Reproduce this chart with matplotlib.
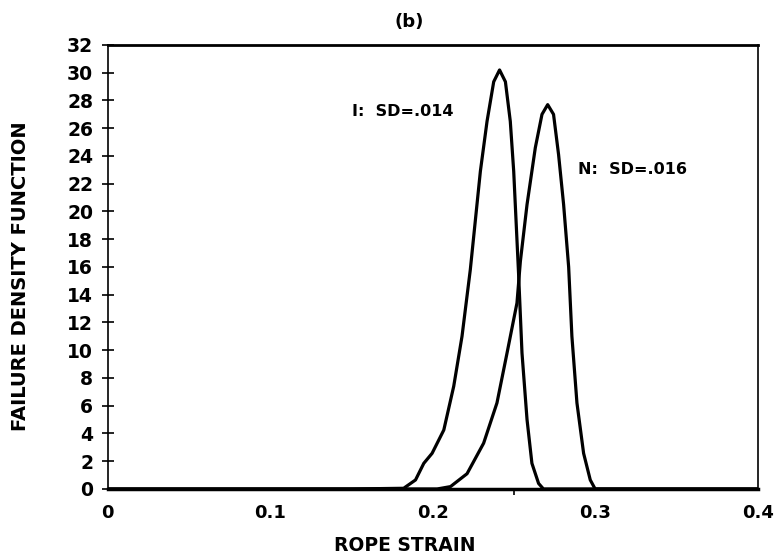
import matplotlib.pyplot as plt

# curve I (SD=.014)
strain_i = [0.0, 0.150, 0.182, 0.1893, 0.1944, 0.1995, 0.2067, 0.2128, 0.2179, 0.2230,
            0.2292, 0.2333, 0.2374, 0.2410, 0.2446, 0.2476, 0.2497, 0.2527, 0.2548,
            0.2579, 0.2609, 0.2650, 0.2680, 0.400]
fdf_i = [0.0, 0.0, 0.05, 0.65, 1.85, 2.57, 4.25, 7.4, 11.0, 15.8,
         22.9, 26.5, 29.35, 30.2, 29.35, 26.5, 22.9, 15.5, 9.8,
         5.0, 1.85, 0.4, 0.0, 0.0]

# curve N (SD=.016)
strain_n = [0.0, 0.170, 0.2026, 0.2108, 0.2210, 0.2312, 0.2394, 0.2456, 0.2517, 0.2538,
            0.2579, 0.2630, 0.2671, 0.2706, 0.2742, 0.2773, 0.2804, 0.2835, 0.2855,
            0.2886, 0.2927, 0.2968, 0.2998, 0.400]
fdf_n = [0.0, 0.0, 0.0, 0.17, 1.1, 3.3, 6.2, 9.8, 13.4, 16.4,
         20.5, 24.6, 27.0, 27.7, 27.0, 24.1, 20.5, 16.0, 11.0,
         6.2, 2.57, 0.65, 0.0, 0.0]

x_ticks = [0, 0.1, 0.2, 0.3, 0.4]
x_tick_labels = ["0", "0.1", "0.2", "0.3", "0.4"]
y_ticks = list(range(0, 33, 2))

plt.rcParams["font.family"] = ["DejaVu Sans"]
plt.rcParams["font.weight"] = "bold"

fig = plt.figure(figsize=(7.81, 5.58), dpi=100)
ax = fig.add_axes([0.138, 0.1237, 0.8326, 0.7957])

ax.plot(strain_i, fdf_i, color="black", linewidth=2.3, solid_joinstyle="round")
ax.plot(strain_n, fdf_n, color="black", linewidth=2.3, solid_joinstyle="round")

ax.text(0.150, 27.2, "I:  SD=.014", fontsize=11.5, fontweight="bold", va="center")
ax.text(0.289, 23.0, "N:  SD=.016", fontsize=11.5, fontweight="bold", va="center")

ax.set_xlim(0, 0.4)
ax.set_ylim(0, 32)
ax.set_xticks(x_ticks)
ax.set_xticklabels(x_tick_labels)
ax.set_yticks(y_ticks)
ax.set_xticks([0.25], minor=True)
ax.tick_params(axis="x", which="major", length=0, pad=11, labelsize=13)
ax.tick_params(axis="x", which="minor", direction="out", length=4, width=1.2)
ax.tick_params(axis="y", direction="inout", length=9, width=1.2, pad=6, labelsize=13.5)
for lab in ax.get_xticklabels() + ax.get_yticklabels():
    lab.set_fontweight("bold")

for side in ["left", "right"]:
    ax.spines[side].set_linewidth(1.2)
ax.spines["bottom"].set_linewidth(2.5)
ax.spines["top"].set_linewidth(2.0)

ax.set_xlabel("ROPE STRAIN", fontsize=13.5, fontweight="bold")
ax.xaxis.set_label_coords(0.457, -0.105)
ax.set_ylabel("FAILURE DENSITY FUNCTION", fontsize=14, fontweight="bold", va="center")
ax.yaxis.set_label_coords(-0.134, 0.48)
fig.text(409 / 781, 1 - 22 / 558, "(b)", fontsize=13, fontweight="bold",
         ha="center", va="center")

fig.savefig("out.png", dpi=100)
